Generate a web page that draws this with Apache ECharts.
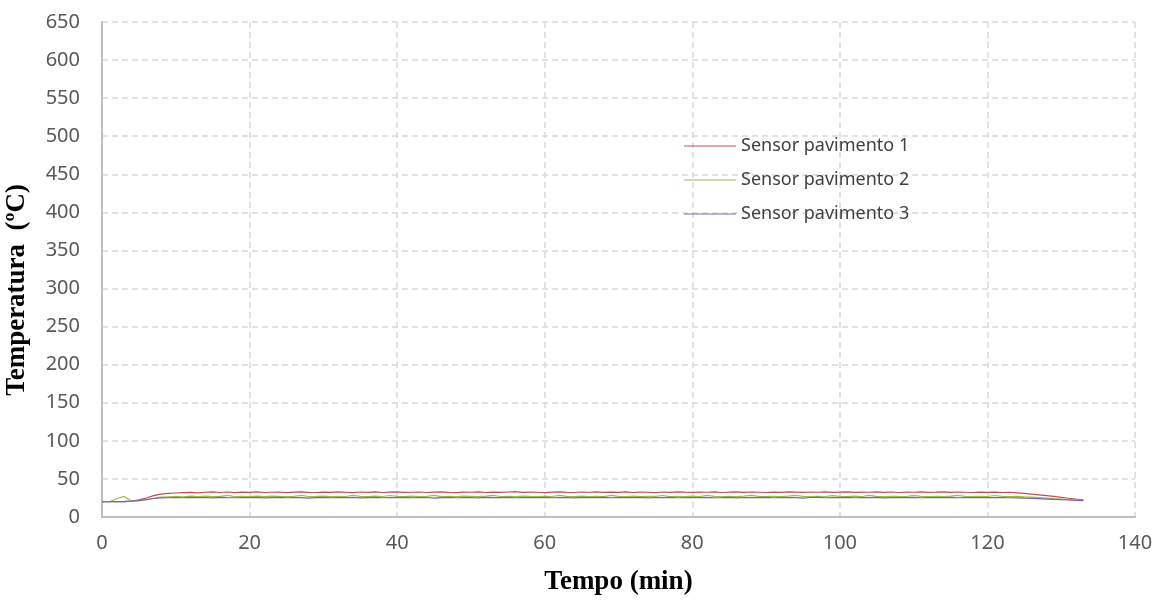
<!DOCTYPE html>
<html><head><meta charset="utf-8">
<script src="https://cdn.jsdelivr.net/npm/echarts@6/dist/echarts.min.js"></script>
<style>html,body{margin:0;padding:0;background:#fff}#c{width:1160px;height:605px}</style>
</head><body><div id="c"></div>
<script>
var seriesNames = ['Sensor pavimento 1','Sensor pavimento 2','Sensor pavimento 3'];
var xTicks = [0,20,40,60,80,100,120,140];
var yTicks = [0,50,100,150,200,250,300,350,400,450,500,550,600,650];
var sensor1 = [
20,20,20.2,20.3,21,22.5,25,28,30,31,
31.5,32,32.3,31.8,32.5,33,32.2,32.8,32.1,32.6,
32.3,32.9,32.2,32.5,32.8,32.1,32.6,33,32.4,32.2,
32.7,32.3,32.9,32.5,32.1,32.8,32.4,33.1,32.2,32.6,
32.9,32.3,32.5,32.8,32.2,32.6,33,32.4,32.1,32.7,
32.5,32.9,32.2,32.6,32.4,32.8,33.2,32.3,32.7,32.5,
32.1,32.6,32.9,32.4,32.2,32.8,32.5,33,32.3,32.6,
32.4,32.9,32.2,32.7,32.5,32.1,32.8,32.4,33,32.6,
32.3,32.7,32.5,32.9,32.2,32.6,33.1,32.4,32.8,32.5,
32.2,32.7,32.4,32.9,32.6,32.3,32.8,32.5,33,32.4,
32.7,32.9,32.3,32.6,32.5,33.1,32.4,32.8,32.2,32.7,
32.5,32.9,32.4,32.6,33,32.3,32.8,32.5,32.2,32.7,
32.4,32.6,32.2,32.5,31.8,31,30,29,28,27,
25.8,24.6,23.5,22.5
];
var sensor2 = [
20,20,24,27,21,21.5,22.5,24.5,26,26.5,
27,26.6,27.3,26.9,27.4,26.7,27.1,28.4,26.8,27.2,
26.9,27.3,26.7,27.5,27,26.8,27.2,28.3,26.9,27.1,
27.4,26.8,27.2,26.9,28.6,27,26.7,27.3,26.9,28.2,
27.1,26.8,27.4,26.9,27.2,28.5,26.8,27.1,26.9,27.3,
27,26.7,27.3,28.4,26.9,27.2,26.8,27.4,27,26.8,
27.2,26.9,28.3,27.1,26.8,27.3,26.9,27.2,26.7,28.5,
27,26.8,27.3,26.9,27.2,27,28.2,26.8,27.1,26.9,
27.3,26.8,28.6,27,26.9,27.2,26.8,27.4,28.3,27,
26.9,27.2,26.8,27.3,28.4,27,26.7,27.2,26.9,28.1,
27,26.8,27.3,26.9,28.5,27.1,26.8,27.2,27,26.9,
28.3,27,26.8,27.2,26.9,27.3,28.4,27,26.8,27.1,
26.9,28.2,27,26.8,27.1,26.5,26,25.4,24.8,24.1,
23.5,23,22.5,22
];
var sensor3 = [
20,20,20,20.3,20.8,21.6,23,24.3,25,25.3,
25.5,25.3,25.7,25.4,25.6,25.2,25.8,25.5,25.3,25.6,
25.4,25.7,25.2,25.5,25.8,25.3,25.6,25.4,24.9,25.5,
25.7,25.3,25.6,25.4,25.8,25.2,25.5,25.7,25.3,25.6,
25.4,25.8,25.3,25.5,25.6,24.9,25.4,25.7,25.3,25.5,
25.6,25.2,25.7,25.4,25.5,25.8,25.3,25.6,25.4,25.5,
25.7,25.3,25.5,25.6,25.2,25.8,25.4,25.5,25.7,25.3,
25.6,25.4,25.5,25.8,25.2,25.6,25.4,25.7,25.3,25.5,
25.6,25.4,25.7,25.3,25.5,25.8,25.2,25.6,25.4,25.5,
25.7,25.3,25.6,25.4,25.5,24.9,25.6,25.7,25.3,25.5,
25.4,25.7,25.3,25.6,25.5,25.8,25.2,25.5,25.6,25.4,
25.7,25.3,25.5,25.6,25.4,25.8,25.3,25.5,25.6,25.4,
25.5,25.4,25.6,25.3,25.1,24.8,24.4,24,23.6,23.1,
22.7,22.3,21.9,21.6
];
var xTitle = 'Tempo (min)';
var yTitle = 'Temperatura  (ºC)';
var colors = ['#C0504D','#9BBB59','#8064A2'];
function toPairs(arr){ return arr.map(function(v,i){ return [i, v]; }); }
var chart = echarts.init(document.getElementById('c'), null, {renderer:'canvas'});
var lineIcon = 'path://M0,0 L100,0 L100,2 L0,2 Z';
chart.setOption({
  animation:false,
  backgroundColor:'#fff',
  grid:{left:102, right:25, top:22, bottom:88, containLabel:false, outerBoundsMode:'none'},
  legend:{
    orient:'vertical', left:684, top:136, itemGap:14, padding:0,
    itemWidth:52, itemHeight:2, icon:lineIcon,
    textStyle:{fontFamily:'Noto Sans', fontSize:18, lineHeight:20, color:'#404040'},
    data:seriesNames
  },
  graphic:[{
    type:'text', left:4, top:184, rotation:Math.PI/2,
    style:{text:yTitle, font:'bold 27px "Liberation Serif"', fill:'#000'}
  }],
  xAxis:{
    type:'value', min:0, max:140, interval:20,
    name:xTitle, nameLocation:'middle', nameGap:52,
    nameTextStyle:{fontFamily:'Liberation Serif', fontWeight:'bold', fontSize:27, color:'#000'},
    axisLine:{show:true, lineStyle:{color:'#bfbfbf', width:2}},
    axisTick:{show:false},
    axisLabel:{fontFamily:'Noto Sans', fontSize:20, color:'#595959', margin:16},
    splitLine:{show:true, lineStyle:{color:'#d9d9d9', type:[6,4], width:1.5}}
  },
  yAxis:{
    type:'value', min:0, max:650, interval:50,
    axisLine:{show:true, lineStyle:{color:'#bfbfbf', width:2}},
    axisTick:{show:false},
    axisLabel:{fontFamily:'Noto Sans', fontSize:20, color:'#595959', margin:22},
    splitLine:{show:true, lineStyle:{color:'#d9d9d9', type:[6,4], width:1.5}}
  },
  series:[
    {name:seriesNames[0], type:'line', data:toPairs(sensor1), showSymbol:false, symbol:'none', lineStyle:{color:colors[0], width:1.2}, itemStyle:{color:colors[0]}},
    {name:seriesNames[1], type:'line', data:toPairs(sensor2), showSymbol:false, symbol:'none', lineStyle:{color:colors[1], width:1.2}, itemStyle:{color:colors[1]}},
    {name:seriesNames[2], type:'line', data:toPairs(sensor3), showSymbol:false, symbol:'none', lineStyle:{color:colors[2], width:1.2}, itemStyle:{color:colors[2]}}
  ]
});
</script></body></html>
